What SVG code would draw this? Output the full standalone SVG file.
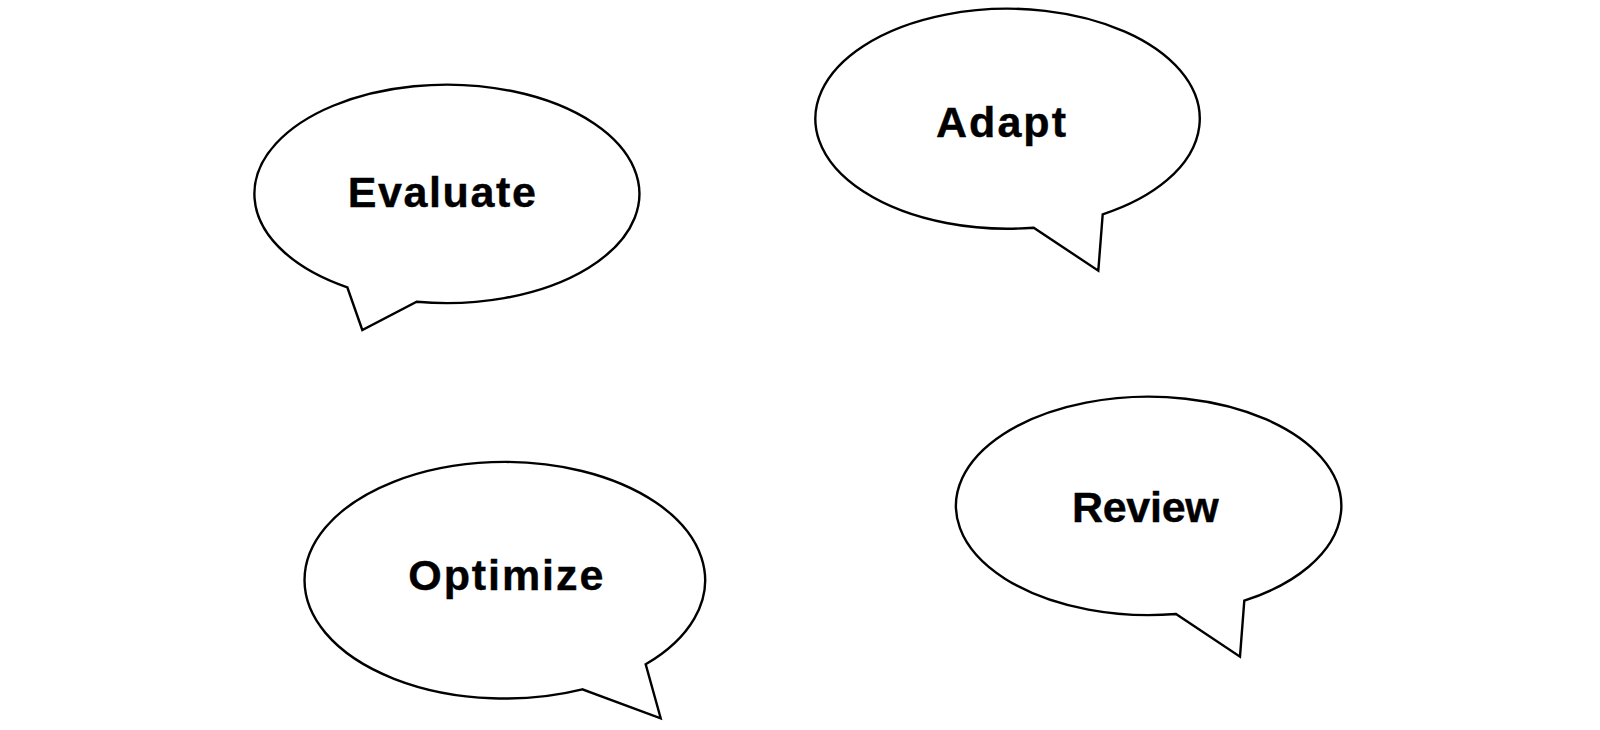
<svg xmlns="http://www.w3.org/2000/svg" width="1600" height="730" viewBox="0 0 1600 730">
<style>
.bubble{fill:#ffffff;stroke:#000000;stroke-width:2.4;stroke-linejoin:miter}
.label{font-family:"Liberation Sans",Arial,Helvetica,sans-serif;font-weight:bold;font-size:43px;fill:#000000;stroke:#000000;stroke-width:0.4}
</style>
<rect x="0" y="0" width="1600" height="730" fill="#ffffff"/>
<g id="evaluate">
<path class="bubble" d="M 416.7 301.7 A 192.5 109.2 0 1 0 347.3 287.3 L 362.3 330 Z"/>
<text class="label" x="347.8" y="207" textLength="188" lengthAdjust="spacing">Evaluate</text>
</g>
<g id="adapt">
<path class="bubble" d="M 1033.7 227.7 A 192.2 110 0 1 1 1102.7 214.3 L 1098.3 270.7 Z"/>
<text class="label" x="936" y="137" textLength="130" lengthAdjust="spacing">Adapt</text>
</g>
<g id="optimize">
<path class="bubble" d="M 582.3 689.3 A 200.3 118.3 0 1 1 645.7 664.3 L 660.7 718.3 Z"/>
<text class="label" x="408.3" y="590" textLength="195" lengthAdjust="spacing">Optimize</text>
</g>
<g id="review">
<path class="bubble" d="M 1176 614 A 192.7 109.2 0 1 1 1244.3 600.7 L 1240 656.7 Z"/>
<text class="label" x="1072" y="522" textLength="146.7" lengthAdjust="spacing">Review</text>
</g>
</svg>
